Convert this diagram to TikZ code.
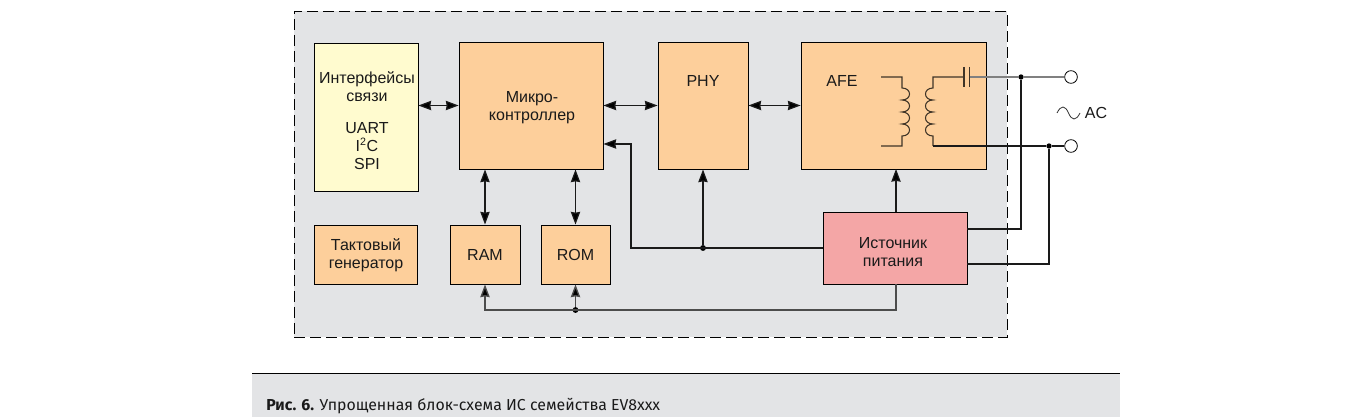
\documentclass[tikz,border=0pt]{standalone}
\usepackage{fontspec}
\setmainfont{Liberation Sans}
\newfontfamily\capfont{Fira Sans}
\usetikzlibrary{arrows.meta,calc}
\definecolor{panel}{HTML}{E3E4E6}
\definecolor{orng}{HTML}{FDCF9B}
\definecolor{yell}{HTML}{FFFBCF}
\definecolor{pinkb}{HTML}{F4A6A6}
\definecolor{ink}{HTML}{1A1A1A}
\tikzset{
  x=0.75pt,y=-0.75pt,
  box/.style={draw=black,line width=0.7pt,inner sep=0pt,align=center,font=\fontsize{12}{13.5}\selectfont,text=ink},
  lbl/.style={inner sep=0pt,align=center,font=\fontsize{12}{13.5}\selectfont,text=ink},
  wire/.style={draw=ink,line width=0.9pt},
  greywire/.style={draw=black!70,line width=1pt},
  lightwire/.style={draw=black!50,line width=1pt},
  coilw/.style={draw=black!75!orng,line width=0.8pt},
  tip/.style={-{Stealth[length=9.5pt,width=7pt,inset=0.6pt,fill=black]}},
  dbl/.style={{Stealth[length=9.5pt,width=7pt,inset=0.6pt,fill=black]}-{Stealth[length=9.5pt,width=7pt,inset=0.6pt,fill=black]}},
  jdot/.style={circle,fill=black,inner sep=0pt,minimum size=4pt},
  term/.style={circle,draw=black,fill=white,line width=0.6pt,inner sep=0pt,minimum size=9.5pt}
}
\begin{document}
\begin{tikzpicture}
\useasboundingbox (0,0) rectangle (1371,417);
% caption band
\fill[panel] (252,374) rectangle (1120,417);
\draw[black,line width=0.7pt] (252,373.5) coordinate (capl) -- (1120,373.5) coordinate (capr);
\node[anchor=base west,inner sep=0pt,font=\capfont\fontsize{11.9}{13}\selectfont,text=ink] (cap) at (266,410)
  {\textbf{Рис. 6.} Упрощенная блок-схема ИС семейства EV8xxx};
% outer panel
\node[draw=black,fill=panel,dash pattern=on 8pt off 4pt,line width=0.6pt,inner sep=0pt,minimum width=534.75pt,minimum height=244.5pt] (outer) at (650.5,174) {};
% blocks
\node[box,fill=yell,minimum width=78pt,minimum height=111pt] (iface) at (366,117) {};
\node[lbl] (ifacet) at (367,87) {Интерфейсы\\связи};
\node[lbl] (ifaceb) at (367,146) {UART\\I\textsuperscript{2}C\\SPI};
\node[box,fill=orng,minimum width=108pt,minimum height=95.25pt] (mcu) at (531,105.5) {};
\node[lbl] (mcut) at (532,108) {Микро-\\контроллер};
\node[box,fill=orng,minimum width=67.5pt,minimum height=95.25pt] (phy) at (703,105.5) {};
\node[lbl] (phyt) at (703,81) {PHY};
\node[box,fill=orng,minimum width=138.75pt,minimum height=95.25pt] (afe) at (893.5,105.5) {};
\node[lbl] (afet) at (842,81) {AFE};
\node[box,fill=orng,minimum width=77.25pt,minimum height=44.25pt] (clk) at (365.5,254.5) {};
\node[lbl] (clkt) at (366,255.5) {Тактовый\\генератор};
\node[box,fill=orng,minimum width=52.5pt,minimum height=44.25pt] (ram) at (485,254.5) {RAM};
\node[box,fill=orng,minimum width=51.75pt,minimum height=44.25pt] (rom) at (575.5,254.5) {ROM};
\node[box,fill=pinkb,minimum width=108pt,minimum height=54pt] (psu) at (895,248) {};
\node[lbl] (psut) at (893,252) {Источник\\питания};
% terminals and junctions
\node[term] (t1) at (1071,77) {};
\node[term] (t2) at (1071,146) {};
\node[jdot] (j1) at (1021,77) {};
\node[jdot] (j2) at (1049,146) {};
\node[jdot,minimum size=4.4pt] (j3) at (703,248) {};
\node[jdot,minimum size=4.4pt] (j4) at (575.5,310) {};
\node[lbl] (ac) at (1096,113) {AC};
% bidirectional buses
\draw[wire,dbl] (iface.east|-mcu) -- (mcu.west);
\draw[wire,dbl] (mcu.east) -- (phy.west);
\draw[wire,dbl] (phy.east) -- (afe.west);
\draw[wire,dbl] (ram.north) -- (ram.north|-mcu.south);
\draw[wire,dbl] (rom.north) -- (rom.north|-mcu.south);
% power
\draw[wire,tip] (psu.west) -- (631,248) -- (631,144) -- (mcu.east|-0,144);
\draw[wire,tip] (j3) -- (phy.south);
\draw[wire,tip] (896,212) -- (896,169);
\draw[greywire,tip] (896,284) -- (896,310) -- (485,310) -- (ram.south);
\draw[greywire,tip] (j4) -- (rom.south);
\draw[wire] (psu.east|-0,229) -- (1021,229) -- (j1);
\draw[wire] (psu.east|-0,264) -- (1049,264) -- (j2);
% transformer primary
\draw[coilw] (881,77) -- (902,77) -- (902,88)
  .. controls (912,88) and (912,100) .. (902,100)
  .. controls (912,100) and (912,112) .. (902,112)
  .. controls (912,112) and (912,124) .. (902,124)
  .. controls (912,124) and (912,136) .. (902,136)
  -- (902,146) -- (881,146);
% transformer secondary and capacitor
\draw[coilw] (964,77) -- (933,77) -- (933,88)
  .. controls (923,88) and (923,100) .. (933,100)
  .. controls (923,100) and (923,112) .. (933,112)
  .. controls (923,112) and (923,124) .. (933,124)
  .. controls (923,124) and (923,136) .. (933,136)
  -- (933,146);
\draw[wire] (933,146) -- (j2) -- (t2);
\draw[coilw] (964,67) -- (964,87);
\draw[coilw] (969.5,67) -- (969.5,87);
\draw[lightwire] (969.5,77) -- (j1) -- (t1);
% AC sign
\draw[draw=black!80,line width=0.6pt] (1057,113)
  .. controls (1061,105) and (1065,105) .. (1068.5,113)
  .. controls (1072,121) and (1076,121) .. (1080,113);
\end{tikzpicture}
\end{document}
